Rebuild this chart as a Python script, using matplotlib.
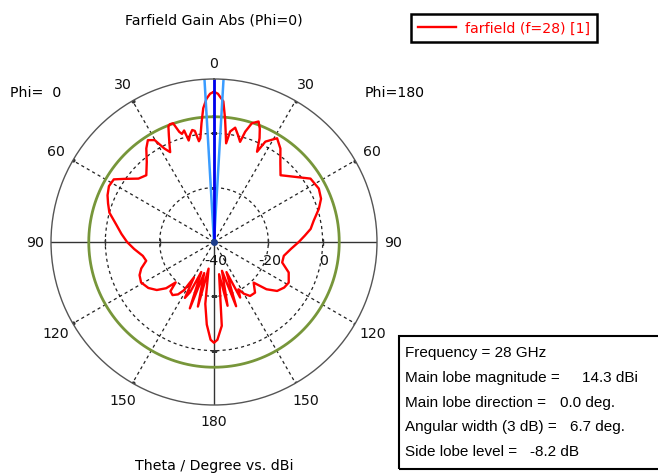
import numpy as np
import matplotlib
matplotlib.use('Agg')
import matplotlib.pyplot as plt
from matplotlib.patches import Rectangle

# farfield cut, theta in degrees, gain in dBi
# left half = Phi=0, right half = Phi=180
theta_phi0 = [0, 1.5, 3, 4.6, 6, 7.5, 8.5, 9.8, 11, 12.5, 14, 15, 16.5, 17.5, 19, 20.5,
              21.5, 23, 24.5, 26, 28, 30.2, 33, 35.9, 40, 45.4, 50, 55, 58, 62, 66.3,
              70, 74.3, 80, 85, 90, 95, 101, 105.5, 110, 114, 119, 125, 130, 134,
              136.5, 138.5, 142, 145.5, 148, 150.5, 152.5, 154.5, 157, 160, 162.5,
              166, 168.5, 172, 175, 178, 180]
gain_phi0 = [15.3, 14.6, 12.8, 9.4, 4.0, -1.5, -2.5, 1.5, 2.0, 0.5, -1.5, 2.5, 1.5, 2.5,
             6.2, 6.3, 5.8, 2.5, -0.5, -3.2, -1.0, 3.4, 4.7, 2.5, -1.5, -5.0, -3.7,
             0.5, 3.5, 3.8, 2.8, 1.5, 0.0, -3.5, -5.8, -8.0, -10.5, -13.3, -14.1,
             -11.5, -10.0, -9.3, -10.5, -12.5, -15.5, -19.5, -15.8, -15.2, -16.6,
             -19.0, -25.0, -16.8, -19.5, -28.0, -14.0, -28.0, -15.5, -30.0, -17.0,
             -9.5, -4.0, -2.9]

theta_phi180 = [0, 1.5, 3.8, 5.1, 6, 7, 8.3, 10.5, 12.5, 14.6, 15.8, 17.7, 20.3, 22,
                23.7, 25.5, 27.1, 31.3, 35.4, 40, 44.9, 50, 56.7, 63, 68, 72.4, 78,
                82.3, 86, 90, 95, 101.2, 106.7, 112.2, 118.5, 123, 127.8, 132, 135.7,
                137.8, 141, 146.2, 150, 152.7, 154.8, 157.5, 161, 164.5, 168, 171,
                174.7, 178, 180]
gain_phi180 = [15.3, 14.6, 11.9, 5.7, 1.0, -3.4, 1.1, 2.8, 0.5, -1.9, 2.2, 5.9, 7.3,
               5.0, 1.7, -3.2, 1.5, 4.7, 2.2, -2.0, -5.3, -2.5, 2.5, 3.3, 2.5, 0.5,
               -2.5, -4.1, -6.5, -8.8, -11.5, -13.8, -13.8, -10.3, -8.7, -9.2, -10.6,
               -14.0, -19.1, -18.0, -16.0, -16.1, -18.0, -20.4, -17.4, -28.0, -15.0,
               -29.0, -16.0, -28.0, -9.0, -4.0, -2.9]

main_dir = 0.0
beam_width = 6.7
side_lobe_ring = 6.1      # main lobe 14.3 dBi - 8.2 dB
r_min, r_max = -40, 20
r_ticks = [-40, -20, 0]
angle_labels = ['0', '30', '60', '90', '120', '150', '180']
angle_values = [0, 30, 60, 90, 120, 150, 180]

info_labels = ['Frequency = 28 GHz', 'Main lobe magnitude =', 'Main lobe direction =',
               'Angular width (3 dB) =', 'Side lobe level =']
info_values = ['', '14.3 dBi', '0.0 deg.', '6.7 deg.', '-8.2 dB']

plt.rcParams['font.family'] = ['DejaVu Sans']
fs = 10.2
W, H = 658, 477


def fx(x):
    return x / W


def fy(y):
    return 1 - y / H


fig = plt.figure(figsize=(6.58, 4.77), dpi=100)
cx, cy, R = 214, 243, 163
ax = fig.add_axes([fx(cx - R), fy(cy + R), 2 * R / W, 2 * R / H], projection='polar')
ax.set_theta_zero_location('N')
ax.set_theta_direction(1)
ax.set_ylim(r_min, r_max)

ax.set_thetagrids([30, 60, 120, 150, 210, 240, 300, 330], labels=[''] * 8)
ax.set_rgrids([-20, 0], labels=['', ''])
ax.grid(True, color='#222222', ls=(0, (2.5, 2.5)), lw=0.9)
ax.spines['polar'].set_color('#555555')
ax.spines['polar'].set_linewidth(1.0)

# solid axis cross
for a in [0, 90, 180, 270]:
    ax.plot(np.radians([a, a]), [r_min, r_max], color='#333333', lw=1.0)

# small ticks on the cross and dots on the rim
for r in [-20, 0]:
    ax.plot(np.radians([90, 270]), [r, r], ls='none', marker='|', ms=5, color='#333333', mew=1)
    ax.plot(np.radians([0, 180]), [r, r], ls='none', marker='_', ms=5, color='#333333', mew=1)
for a in range(30, 360, 30):
    if a % 90:
        ax.plot(np.radians(a), r_max, marker='o', ms=2, color='#333333')

# side lobe ring
ring = np.linspace(0, 2 * np.pi, 361)
ax.plot(ring, np.full_like(ring, side_lobe_ring), color='#77963a', lw=2.0)

# pattern
th = np.concatenate([np.array(theta_phi0), 360 - np.array(theta_phi180)[::-1]])
g = np.concatenate([np.array(gain_phi0), np.array(gain_phi180)[::-1]])
line, = ax.plot(np.radians(th), g, color='#ff0000', lw=1.7, label='farfield (f=28) [1]')

# main lobe direction and 3 dB width
for a in [main_dir - beam_width / 2, main_dir + beam_width / 2]:
    ax.plot(np.radians([a, a]), [r_min, r_max], color='#3a9cff', lw=1.8)
ax.plot(np.radians([main_dir, main_dir]), [r_min, r_max], color='#0000ee', lw=2.0)
ax.plot(0, r_min, marker='o', ms=4, color='#1c3d8c')

# angle labels, mirrored on both sides
for lab, a in zip(angle_labels, angle_values):
    rl = 26.0 if a % 90 == 0 else 27.3
    ax.text(np.radians(a), rl, lab, ha='center', va='center', fontsize=fs, color='#111111')
    if 0 < a < 180:
        ax.text(np.radians(360 - a), rl, lab, ha='center', va='center', fontsize=fs,
                color='#111111')

# radial labels
for r in r_ticks:
    ax.annotate(str(r), (np.radians(270), r), xytext=(1, -13), textcoords='offset points',
                ha='center', va='center', fontsize=fs, color='#111111')

fig.text(fx(214), fy(20), 'Farfield Gain Abs (Phi=0)', ha='center', va='center', fontsize=fs)
fig.text(fx(214), fy(466), 'Theta / Degree vs. dBi', ha='center', va='center', fontsize=fs)
fig.text(fx(10), fy(93), 'Phi=  0', ha='left', va='center', fontsize=fs)
fig.text(fx(365), fy(93), 'Phi=180', ha='left', va='center', fontsize=fs)

leg = fig.legend(handles=[line], loc='upper left', bbox_to_anchor=(fx(411), fy(15)),
                 borderaxespad=0, fancybox=False, fontsize=fs, labelcolor='#ff0000',
                 handlelength=2.7, handletextpad=0.6, borderpad=0.5)
leg.get_frame().set_edgecolor('black')
leg.get_frame().set_linewidth(1.8)
leg.get_frame().set_alpha(1)

# result box (runs off the right edge like the original)
fig.patches.append(Rectangle((fx(399), fy(470)), fx(664) - fx(399), fy(337) - fy(470),
                             transform=fig.transFigure, fill=False, ec='black', lw=1.5))
info_y = [353, 378, 403, 427, 452]
value_x = [0, 582, 560, 570, 530]
for lab, val, y, vx in zip(info_labels, info_values, info_y, value_x):
    fig.text(fx(405), fy(y), lab, ha='left', va='center', fontsize=11,
             family='Liberation Sans')
    if val:
        fig.text(fx(vx), fy(y), val, ha='left', va='center', fontsize=11,
                 family='Liberation Sans')

fig.savefig('out.png', dpi=100)
